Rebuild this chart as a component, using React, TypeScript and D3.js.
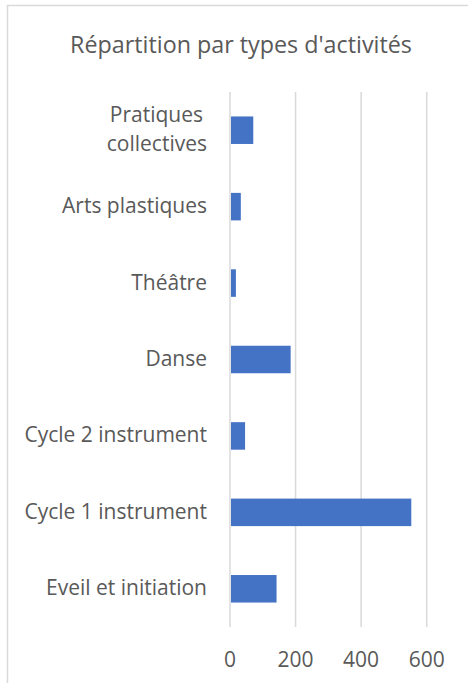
import React, { useRef, useEffect } from 'react'
import * as d3 from 'd3'

// categories from top to bottom
const categories = [
  'Pratiques collectives',
  'Arts plastiques',
  'Théâtre',
  'Danse',
  'Cycle 2 instrument',
  'Cycle 1 instrument',
  'Eveil et initiation',
]
const values = [71, 33, 18, 185, 46, 553, 142]
const xTicks = [0, 200, 400, 600]
const title = "Répartition par types d'activités"

const App = () => {
  const svgRef = useRef<SVGSVGElement>(null)

  useEffect(() => {
    const svg = d3.select(svgRef.current)
    svg.selectAll('*').remove()

    const width = 468
    const height = 683
    const font = "'Open Sans', sans-serif"
    const textColor = '#595959'
    const gridColor = '#d9d9d9'

    svg.attr('width', width).attr('height', height)

    // cadre du graphique
    svg
      .append('rect')
      .attr('x', 7.5)
      .attr('y', 5.5)
      .attr('width', width + 20)
      .attr('height', height + 20)
      .attr('fill', '#fff')
      .attr('stroke', gridColor)
      .attr('stroke-width', 1.5)

    svg
      .append('text')
      .attr('x', 241)
      .attr('y', 53)
      .attr('text-anchor', 'middle')
      .attr('font-family', font)
      .attr('font-size', 23.3)
      .attr('fill', textColor)
      .text(title)

    const x = d3.scaleLinear().domain([0, 600]).range([230, 426.7])
    const y = d3
      .scaleBand()
      .domain(categories)
      .range([92, 627])
      .paddingInner(0.64)
      .paddingOuter(0.32)

    // grille verticale
    svg
      .append('g')
      .selectAll('line')
      .data(xTicks)
      .enter()
      .append('line')
      .attr('x1', d => x(d))
      .attr('x2', d => x(d))
      .attr('y1', 92)
      .attr('y2', 627)
      .attr('stroke', gridColor)
      .attr('stroke-width', 1.5)

    // barres
    svg
      .append('g')
      .selectAll('rect')
      .data(categories)
      .enter()
      .append('rect')
      .attr('x', x(0) + 1)
      .attr('y', d => y(d)!)
      .attr('width', (d, i) => x(values[i]) - x(0) - 1)
      .attr('height', y.bandwidth())
      .attr('fill', '#4472C4')

    // étiquettes des catégories
    const labels = svg
      .append('g')
      .attr('font-family', font)
      .attr('font-size', 21)
      .attr('fill', textColor)
      .attr('text-anchor', 'end')

    categories.forEach(c => {
      const cy = y(c)! + y.bandwidth() / 2
      if (c === 'Pratiques collectives') {
        labels.append('text').attr('x', 203).attr('y', cy - 8).text('Pratiques')
        labels.append('text').attr('x', 207).attr('y', cy + 21).text('collectives')
      } else {
        labels.append('text').attr('x', 207).attr('y', cy + 6.5).text(c)
      }
    })

    // axe X
    svg
      .append('g')
      .attr('font-family', font)
      .attr('font-size', 21)
      .attr('fill', textColor)
      .attr('text-anchor', 'middle')
      .selectAll('text')
      .data(xTicks)
      .enter()
      .append('text')
      .attr('x', d => x(d))
      .attr('y', 667)
      .text(d => d)
  }, [])

  return <svg ref={svgRef} style={{ position: 'absolute', left: 0, top: 0 }}></svg>
}

export default App
